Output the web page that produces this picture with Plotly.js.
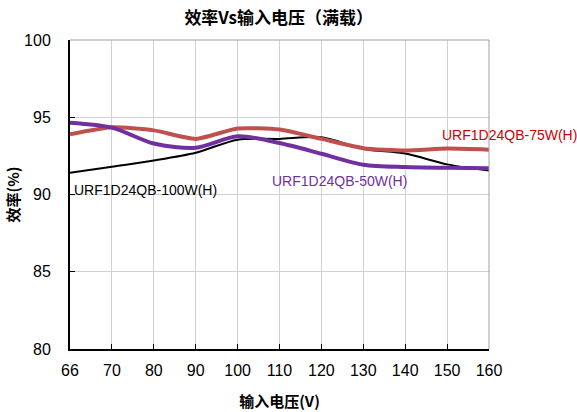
<!DOCTYPE html>
<html>
<head>
<meta charset="utf-8">
<script src="https://cdn.plot.ly/plotly-3.0.1.min.js"></script>
<style>html,body{margin:0;padding:0;background:#fff;}#chart{width:577px;height:412px;}</style>
</head>
<body>
<div id="chart"></div>
<script>
const voltages = ['66','70','80','90','100','110','120','130','140','150','160'];
const eff100W = [91.4, 91.8, 92.2, 92.7, 93.55, 93.6, 93.7, 92.95, 92.65, 91.95, 91.55];
const eff75W  = [93.9, 94.35, 94.15, 93.6, 94.27, 94.2, 93.6, 93.0, 92.85, 92.97, 92.9];
const eff50W  = [94.65, 94.33, 93.3, 93.03, 93.77, 93.33, 92.64, 91.93, 91.78, 91.73, 91.7];
const yTicks = [80, 85, 90, 95, 100];

const latin = 'Liberation Sans, Arial, sans-serif';
const cjk = 'Noto Sans CJK SC, sans-serif';

const traces = [
  {x: voltages, y: eff100W, name: 'URF1D24QB-100W(H)', mode: 'lines',
   line: {color: '#000000', width: 2, shape: 'spline', smoothing: 0.8}},
  {x: voltages, y: eff75W, name: 'URF1D24QB-75W(H)', mode: 'lines',
   line: {color: '#C0504D', width: 4, shape: 'spline', smoothing: 0.6}},
  {x: voltages, y: eff50W, name: 'URF1D24QB-50W(H)', mode: 'lines',
   line: {color: '#7030A0', width: 4, shape: 'spline', smoothing: 0.8}}
];

const layout = {
  width: 577, height: 412,
  margin: {l: 70, r: 88, t: 40, b: 63},
  paper_bgcolor: '#ffffff', plot_bgcolor: '#ffffff',
  showlegend: false,
  title: {text: '<b>效率Vs输入电压（满载）</b>', font: {family: cjk, size: 17, color: '#000'},
          x: 0.483, xanchor: 'center', y: 0.955, yanchor: 'middle'},
  xaxis: {
    type: 'category', range: [0, 10],
    showgrid: true, gridcolor: '#d0d0d0', gridwidth: 1,
    showline: true, linecolor: '#000', linewidth: 2,
    ticks: 'inside', ticklen: 5, tickcolor: '#000', tickwidth: 1,
    tickfont: {family: latin, size: 16, color: '#000'},
    ticklabelstandoff: 6,
    zeroline: false,
    title: {text: '<b>输入电压(V)</b>', font: {family: cjk, size: 15, color: '#000'}, standoff: 18}
  },
  yaxis: {
    range: [80, 100], tickvals: yTicks, ticktext: yTicks.map(String),
    showgrid: true, gridcolor: '#d0d0d0', gridwidth: 1,
    showline: true, linecolor: '#000', linewidth: 2,
    ticks: 'inside', ticklen: 5, tickcolor: '#000', tickwidth: 1,
    tickfont: {family: latin, size: 16, color: '#000'},
    ticklabelstandoff: 14,
    zeroline: false,
    title: {text: '<b>效率(%)</b>', font: {family: cjk, size: 15, color: '#000'}, standoff: 1}
  },
  shapes: [
    {type: 'line', xref: 'paper', yref: 'paper', x0: 0, x1: 1, y0: 1, y1: 1, line: {color: '#a0a0a0', width: 1}},
    {type: 'line', xref: 'paper', yref: 'paper', x0: 1, x1: 1, y0: 0, y1: 1, line: {color: '#a0a0a0', width: 1}}
  ],
  annotations: [
    {text: 'URF1D24QB-100W(H)', xref: 'paper', yref: 'paper', x: 0.005, y: 0.515,
     xanchor: 'left', yanchor: 'middle', showarrow: false, font: {family: latin, size: 14, color: '#000'}},
    {text: 'URF1D24QB-50W(H)', xref: 'paper', yref: 'paper', x: 0.477, y: 0.543,
     xanchor: 'left', yanchor: 'middle', showarrow: false, font: {family: latin, size: 14, color: '#7030A0'}},
    {text: 'URF1D24QB-75W(H)', xref: 'paper', yref: 'paper', x: 0.883, y: 0.693,
     xanchor: 'left', yanchor: 'middle', showarrow: false, font: {family: latin, size: 14, color: '#CC0000'}}
  ]
};

Plotly.newPlot('chart', traces, layout, {displayModeBar: false, staticPlot: true});
</script>
</body>
</html>
